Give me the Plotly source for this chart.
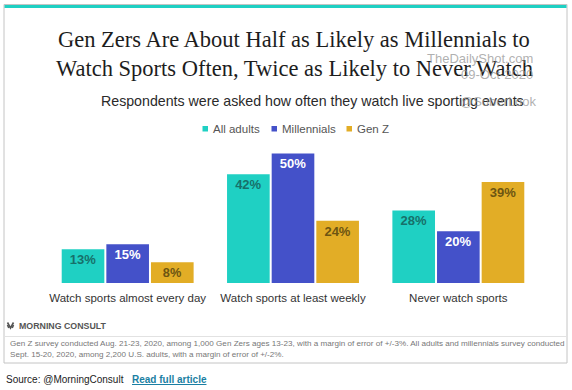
import plotly.graph_objects as go

categories = ["Watch sports almost every day", "Watch sports at least weekly", "Never watch sports"]
series_names = ["All adults", "Millennials", "Gen Z"]
all_adults = [13, 42, 28]
millennials = [15, 50, 20]
gen_z = [8, 24, 39]
series_values = [all_adults, millennials, gen_z]
bar_colors = ["#1fd0c3", "#4451c9", "#e2ad26"]
label_colors = ["#17706a", "#ffffff", "#6d5512"]

W, H = 572, 390
ML, MR, MT, MB = 45, 31, 140, 107
PW, PH = W - ML - MR, H - MT - MB

def px(x):
    return (x - ML) / PW

def py(y):
    return (H - MB - y) / PH

fig = go.Figure()
for name, vals, col, lc in zip(series_names, series_values, bar_colors, label_colors):
    fig.add_trace(go.Bar(
        x=categories, y=vals, name=name, marker=dict(color=col, line=dict(width=0)),
        text=[f"{v}%" for v in vals], texttemplate="<b>%{text}</b>",
        textposition="inside", insidetextanchor="end",
        textfont=dict(family="Liberation Sans", size=13, color=lc),
        showlegend=False, hoverinfo="skip",
    ))

shapes = []
annotations = []
# card
shapes.append(dict(type="rect", xref="paper", yref="paper", x0=px(4), x1=px(567), y0=py(363), y1=py(4.5),
                   line=dict(color="#c4c4c4", width=1), fillcolor="rgba(0,0,0,0)", layer="below"))
shapes.append(dict(type="rect", xref="paper", yref="paper", x0=px(4.5), x1=px(566.5), y0=py(8), y1=py(5),
                   line=dict(width=0), fillcolor="#1fd0c3"))
shapes.append(dict(type="line", xref="paper", yref="paper", x0=px(4.5), x1=px(566.5), y0=py(336.5), y1=py(336.5),
                   line=dict(color="#e2e2e2", width=1)))

# title (two lines)
tfont = dict(family="Liberation Serif", size=22.5, color="#1d1d1d")
annotations.append(dict(xref="paper", yref="paper", x=px(294), y=py(40), xanchor="center", yanchor="middle",
                        text="Gen Zers Are About Half as Likely as Millennials to",
                        showarrow=False, font=tfont))
annotations.append(dict(xref="paper", yref="paper", x=px(294), y=py(68), xanchor="center", yanchor="middle",
                        text="Watch Sports Often, Twice as Likely to Never Watch",
                        showarrow=False, font=tfont))
# subtitle
annotations.append(dict(xref="paper", yref="paper", x=px(312), y=py(101), xanchor="center", yanchor="middle",
                        text="Respondents were asked how often they watch live sporting events",
                        showarrow=False, font=dict(family="Liberation Sans", size=14.2, color="#2a2a2a")))

# legend (manual)
leg_x = [202.5, 271.5, 346.5]
for lx, name, col in zip(leg_x, series_names, bar_colors):
    shapes.append(dict(type="rect", xref="paper", yref="paper", x0=px(lx), x1=px(lx + 5.5),
                       y0=py(131.5), y1=py(126), line=dict(width=0), fillcolor=col))
    annotations.append(dict(xref="paper", yref="paper", x=px(lx + 8), y=py(129), xanchor="left", yanchor="middle",
                            text=name, showarrow=False,
                            font=dict(family="Liberation Sans", size=11.5, color="#555555")))

# watermark
wm = dict(family="Liberation Sans", size=13, color="rgba(150,150,150,0.75)")
annotations.append(dict(xref="paper", yref="paper", x=px(535), y=py(58), xanchor="right", yanchor="middle",
                        text="TheDailyShot.com", showarrow=False, font=wm))
annotations.append(dict(xref="paper", yref="paper", x=px(535), y=py(74), xanchor="right", yanchor="middle",
                        text="09-Oct-2020", showarrow=False, font=wm))
annotations.append(dict(xref="paper", yref="paper", x=px(539), y=py(102), xanchor="right", yanchor="middle",
                        text="@SoberLook", showarrow=False, font=wm))

# morning consult logo
shapes.append(dict(type="path", xref="paper", yref="paper",
                   path="M {0},{1} L {2},{3} L {4},{1}".format(px(7.5), py(322.5), px(10.5), py(328), px(13.5)),
                   line=dict(color="#555555", width=1.6)))
shapes.append(dict(type="path", xref="paper", yref="paper",
                   path="M {0},{1} L {2},{3} M {4},{1} L {5},{3}".format(px(7.5), py(325), px(8.8), py(328), px(13.5), px(12.2)),
                   line=dict(color="#555555", width=1.6)))
annotations.append(dict(xref="paper", yref="paper", x=px(17), y=py(325.5), xanchor="left", yanchor="middle",
                        text="<b>MORNING CONSULT</b>", showarrow=False,
                        font=dict(family="Liberation Sans", size=8.8, color="#555555")))
# footnote
annotations.append(dict(xref="paper", yref="paper", x=px(8), y=py(349), xanchor="left", yanchor="middle",
                        text="Gen Z survey conducted Aug. 21-23, 2020, among 1,000 Gen Zers ages 13-23, with a margin of error of +/-3%. All adults and millennials survey conducted<br>Sept. 15-20, 2020, among 2,200 U.S. adults, with a margin of error of +/-2%.",
                        showarrow=False, align="left",
                        font=dict(family="Liberation Sans", size=8.1, color="#777777")))
# source line
annotations.append(dict(xref="paper", yref="paper", x=px(4), y=py(379), xanchor="left", yanchor="middle",
                        text="Source: @MorningConsult", showarrow=False,
                        font=dict(family="Liberation Sans", size=10, color="#222222")))
annotations.append(dict(xref="paper", yref="paper", x=px(130), y=py(379), xanchor="left", yanchor="middle",
                        text="<b><u>Read full article</u></b>", showarrow=False,
                        font=dict(family="Liberation Sans", size=10, color="#1b7fa3")))

fig.update_layout(
    width=W, height=H, margin=dict(l=ML, r=MR, t=MT, b=MB, pad=0),
    paper_bgcolor="white", plot_bgcolor="white",
    barmode="group", bargap=0.19, bargroupgap=0.045,
    xaxis=dict(showgrid=False, zeroline=False, showline=False, ticks="", ticklabelstandoff=6,
               tickfont=dict(family="Liberation Sans", size=11.5, color="#333333")),
    yaxis=dict(range=[0, 55.2], visible=False, fixedrange=True),
    shapes=shapes, annotations=annotations, showlegend=False,
)
fig.write_html("out.html", config={"displayModeBar": False},
               post_script="document.body.style.margin='0';document.body.style.overflow='hidden';")
